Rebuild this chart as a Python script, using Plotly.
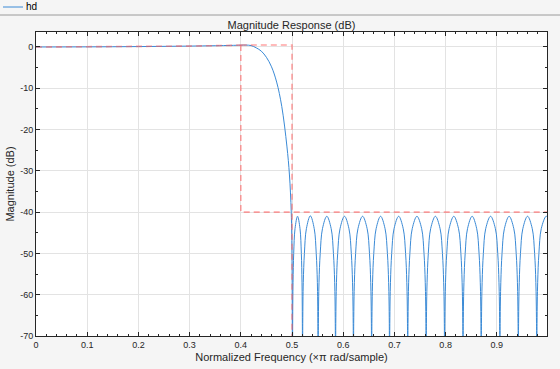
import plotly.graph_objects as go

# ---- data ----
pass_freq = [0.0, 0.05, 0.1, 0.15, 0.2, 0.25, 0.3, 0.35, 0.38, 0.40, 0.41, 0.42, 0.43,
             0.44, 0.45, 0.46, 0.47, 0.48, 0.49, 0.495, 0.4985, 0.5, 0.501]
pass_mag = [0.0, 0.01, 0.03, 0.06, 0.10, 0.15, 0.22, 0.31, 0.38, 0.44, 0.46, 0.35, -0.2,
            -1.0, -2.5, -4.8, -8.5, -14.4, -24.0, -31.0, -40.0, -52.0, -100.0]

stop_freq = [
    0.5013, 0.5020, 0.5033, 0.5059, 0.5108, 0.5156, 0.5182, 0.5195, 0.5202, 0.5205,
    0.5210, 0.5220, 0.5242, 0.5281, 0.5358, 0.5434, 0.5473, 0.5495, 0.5505, 0.5510,
    0.5515, 0.5527, 0.5551, 0.5595, 0.5680, 0.5765, 0.5809, 0.5833, 0.5845, 0.5850,
    0.5855, 0.5868, 0.5892, 0.5938, 0.6025, 0.6112, 0.6158, 0.6182, 0.6195, 0.6200,
    0.6205, 0.6218, 0.6242, 0.6288, 0.6378, 0.6467, 0.6513, 0.6537, 0.6550, 0.6555,
    0.6560, 0.6573, 0.6597, 0.6643, 0.6730, 0.6817, 0.6863, 0.6887, 0.6900, 0.6905,
    0.6910, 0.6923, 0.6947, 0.6993, 0.7083, 0.7172, 0.7218, 0.7242, 0.7255, 0.7260,
    0.7265, 0.7278, 0.7302, 0.7348, 0.7440, 0.7532, 0.7578, 0.7602, 0.7615, 0.7620,
    0.7625, 0.7638, 0.7662, 0.7708, 0.7800, 0.7892, 0.7938, 0.7962, 0.7975, 0.7980,
    0.7985, 0.7998, 0.8022, 0.8068, 0.8160, 0.8252, 0.8298, 0.8322, 0.8335, 0.8340,
    0.8345, 0.8358, 0.8382, 0.8428, 0.8518, 0.8607, 0.8653, 0.8677, 0.8690, 0.8695,
    0.8700, 0.8713, 0.8737, 0.8783, 0.8878, 0.8972, 0.9018, 0.9042, 0.9055, 0.9060,
    0.9065, 0.9078, 0.9102, 0.9148, 0.9240, 0.9332, 0.9378, 0.9402, 0.9415, 0.9420,
    0.9425, 0.9438, 0.9462, 0.9508, 0.9600, 0.9692, 0.9738, 0.9762, 0.9775, 0.9780,
    0.9785, 0.9798, 0.9822, 0.9868, 0.9960, 0.9980,
]
stop_mag = [
    -67, -57, -50, -44, -41.0, -44, -50, -57, -67, -100,
    -67, -57, -50, -44, -40.9, -44, -50, -57, -67, -100,
    -67, -57, -50, -44, -41.0, -44, -50, -57, -67, -100,
    -67, -57, -50, -44, -41.0, -44, -50, -57, -67, -100,
    -67, -57, -50, -44, -41.0, -44, -50, -57, -67, -100,
    -67, -57, -50, -44, -41.0, -44, -50, -57, -67, -100,
    -67, -57, -50, -44, -41.0, -44, -50, -57, -67, -100,
    -67, -57, -50, -44, -41.0, -44, -50, -57, -67, -100,
    -67, -57, -50, -44, -41.0, -44, -50, -57, -67, -100,
    -67, -57, -50, -44, -41.0, -44, -50, -57, -67, -100,
    -67, -57, -50, -44, -41.0, -44, -50, -57, -67, -100,
    -67, -57, -50, -44, -41.0, -44, -50, -57, -67, -100,
    -67, -57, -50, -44, -41.0, -44, -50, -57, -67, -100,
    -67, -57, -50, -44, -41.0, -44, -50, -57, -67, -100,
    -67, -57, -50, -44, -41.0, -41.1,
]

mask_x = [0.0, 0.1, 0.2, 0.3, 0.4, None, 0.4, 0.4, 0.998, None, 0.4, 0.5, 0.5]
mask_y = [0.0, 0.03, 0.10, 0.22, 0.44, None, 0.47, -40, -40, None, 0.47, 0.47, -70]

x_ticks = [0, 0.1, 0.2, 0.3, 0.4, 0.5, 0.6, 0.7, 0.8, 0.9]
x_tick_labels = ["0", "0.1", "0.2", "0.3", "0.4", "0.5", "0.6", "0.7", "0.8", "0.9"]
y_ticks = [0, -10, -20, -30, -40, -50, -60, -70]
y_tick_labels = ["0", "-10", "-20", "-30", "-40", "-50", "-60", "-70"]

FONT = "Liberation Sans, Arial, sans-serif"
TXT = "#262626"

fig = go.Figure()
fig.add_trace(go.Scatter(
    x=pass_freq + stop_freq, y=pass_mag + stop_mag, mode="lines", name="hd",
    line=dict(color="#3a8ad6", width=1, shape="spline", smoothing=1.0),
    showlegend=False, hoverinfo="x+y"))
fig.add_trace(go.Scatter(
    x=mask_x, y=mask_y, mode="lines", name="mask",
    line=dict(color="rgba(255,90,90,0.55)", width=1.6, dash="6px,4px"),
    showlegend=False, hoverinfo="skip"))

fig.update_layout(
    width=560, height=369,
    margin=dict(l=36, r=13, t=32, b=33, autoexpand=False),
    paper_bgcolor="#f5f5f5", plot_bgcolor="#ffffff",
    font=dict(family=FONT, size=10, color=TXT),
    title=dict(text="Magnitude Response (dB)", x=(36 + 547) / 2 / 560, xanchor="center",
               y=1 - 25 / 369, yanchor="middle", yref="container",
               font=dict(size=11, color=TXT), automargin=False),
    shapes=[
        dict(type="line", xref="paper", yref="paper", x0=-36 / 511, x1=1 + 13 / 511,
             y0=1 + 17 / 304, y1=1 + 17 / 304, line=dict(color="#9a9a9a", width=1)),
        dict(type="line", xref="paper", yref="paper", x0=-33 / 511, x1=-13 / 511,
             y0=1 + 25 / 304, y1=1 + 25 / 304, line=dict(color="#3a8ad6", width=1)),
    ],
    annotations=[
        dict(text="hd", xref="paper", yref="paper", x=-12 / 511, y=1 + 25 / 304,
             xanchor="left", yanchor="middle", showarrow=False,
             font=dict(size=10, color="#000000")),
    ],
)

fig.update_xaxes(
    range=[0, 0.998], tickvals=x_ticks, ticktext=x_tick_labels, automargin=False,
    showline=True, linecolor=TXT, linewidth=1, mirror="allticks",
    ticks="inside", ticklen=4, tickcolor=TXT, tickfont=dict(size=9, color=TXT),
    showgrid=True, gridcolor="#e3e3e3", gridwidth=1, zeroline=False,
    minor=dict(dtick=0.02, ticks="inside", ticklen=2, tickcolor=TXT, showgrid=False),
    title=dict(text="Normalized Frequency (\u00d7\u03c0 rad/sample)",
               font=dict(size=11, color=TXT), standoff=4),
)
fig.update_yaxes(
    range=[-70, 3.63], tickvals=y_ticks, ticktext=y_tick_labels, automargin=False,
    showline=True, linecolor=TXT, linewidth=1, mirror="allticks",
    ticks="inside", ticklen=4, tickcolor=TXT, tickfont=dict(size=9, color=TXT),
    showgrid=True, gridcolor="#e3e3e3", gridwidth=1, zeroline=False,
    minor=dict(dtick=5, ticks="inside", ticklen=2, tickcolor=TXT, showgrid=False),
    title=dict(text="Magnitude (dB)", font=dict(size=11, color=TXT), standoff=3),
)

fig.write_html(
    "out.html",
    config={"displayModeBar": False},
    post_script="document.body.style.margin='0';document.body.style.padding='0';"
                "document.body.style.overflow='hidden';",
)
